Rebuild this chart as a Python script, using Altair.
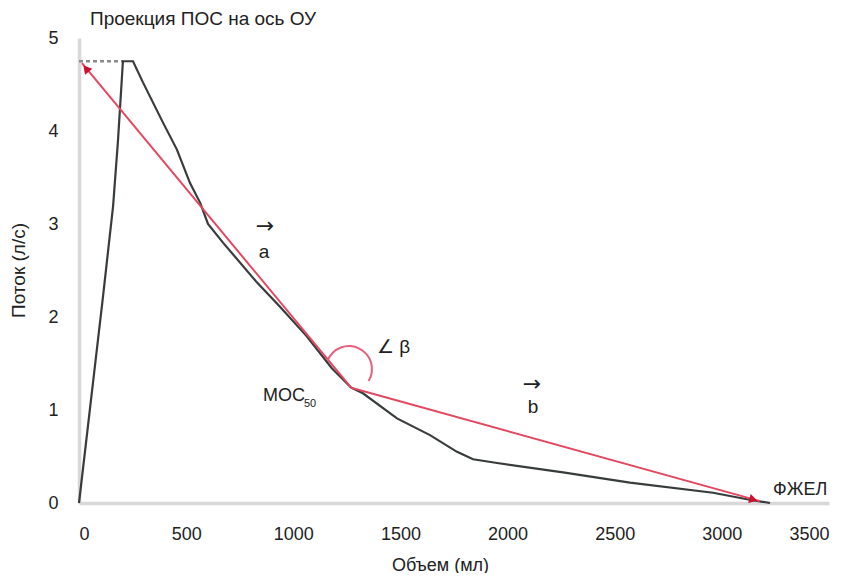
import altair as alt
import pandas as pd

# ---- data ----
curve_volume = [0, 112, 159, 182, 205, 252, 299, 392, 457, 518, 565, 602, 672, 831,
                938, 1060, 1180, 1270, 1325, 1484, 1638, 1764, 1839, 1951, 2259, 2571,
                2959, 3117, 3225]
curve_flow = [0, 2.22, 3.19, 3.90, 4.75, 4.75, 4.52, 4.09, 3.80, 3.44, 3.23, 3.00, 2.80,
              2.37, 2.11, 1.80, 1.45, 1.24, 1.18, 0.91, 0.73, 0.55, 0.47, 0.43, 0.33,
              0.22, 0.11, 0.04, 0.0]

pos_volume = [0, 205]          # dashed projection of ПОС
pos_flow = [4.75, 4.75]

moc50 = (1270, 1.24)
arrow_a_tip = (14, 4.73)
arrow_b_tip = (3178, 0.02)
arrow_vectors = ["a", "a", "b", "b"]
arrow_volume = [moc50[0], arrow_a_tip[0], moc50[0], arrow_b_tip[0]]
arrow_flow = [moc50[1], arrow_a_tip[1], moc50[1], arrow_b_tip[1]]

head_volume = [37, 3141]
head_flow = [4.66, 0.04]
head_angle = [320, 106]

arc_center = (1260, 1.44)

vec_arrow_text = ["→", "→"]
vec_arrow_volume = [868, 2114]
vec_arrow_flow = [2.98, 1.28]

vec_letter_text = ["a", "b"]
vec_letter_volume = [863, 2119]
vec_letter_flow = [2.70, 1.03]

left_text = ["∠ β", "МОС", "50", "ФЖЕЛ"]
left_volume = [1391, 859, 1050, 3239]
left_flow = [1.68, 1.15, 1.06, 0.14]
left_size = [19, 18, 11, 18]

x_ticks = [0, 500, 1000, 1500, 2000, 2500, 3000, 3500]
y_ticks = [0, 1, 2, 3, 4, 5]

FONT = "Liberation Sans"

curve_df = pd.DataFrame({"v": curve_volume, "f": curve_flow, "o": range(len(curve_volume))})
pos_df = pd.DataFrame({"v": pos_volume, "f": pos_flow})
arrow_df = pd.DataFrame({"vec": arrow_vectors, "v": arrow_volume, "f": arrow_flow,
                         "o": [0, 1, 0, 1]})
head_df = pd.DataFrame({"v": head_volume, "f": head_flow, "ang": head_angle})
arc_df = pd.DataFrame({"v": [arc_center[0]], "f": [arc_center[1]]})
varrow_df = pd.DataFrame({"v": vec_arrow_volume, "f": vec_arrow_flow, "t": vec_arrow_text})
vletter_df = pd.DataFrame({"v": vec_letter_volume, "f": vec_letter_flow, "t": vec_letter_text})
ltext_df = pd.DataFrame({"v": left_volume, "f": left_flow, "t": left_text, "s": left_size})

xs = alt.Scale(domain=[0, 3500], nice=False)
ys = alt.Scale(domain=[0, 5], nice=False)

X = alt.X("v:Q", scale=xs, title="Объем (мл)",
          axis=alt.Axis(values=x_ticks, format="d", grid=False, ticks=False, tickSize=0,
                        labelPadding=22, labelFontSize=18, labelFont=FONT,
                        labelColor="#222", domainColor="#d8d8d8", domainWidth=3.5,
                        titleFont=FONT, titleFontSize=18, titleFontWeight="normal",
                        titleColor="#222", titleX=361, titleY=62,
                        titleBaseline="middle"))
Y = alt.Y("f:Q", scale=ys, title="Поток (л/с)",
          axis=alt.Axis(values=y_ticks, format="d", grid=False, ticks=False, tickSize=0,
                        labelPadding=21, labelFontSize=18, labelFont=FONT,
                        labelColor="#222", domainColor="#d8d8d8", domainWidth=3.5,
                        titleFont=FONT, titleFontSize=19, titleFontWeight="normal",
                        titleColor="#222", titleX=-61, titleY=232,
                        titleBaseline="middle"))

curve = alt.Chart(curve_df).mark_line(color="#383c3c", strokeWidth=2.2).encode(
    x=X, y=Y, order="o:Q")

dashed = alt.Chart(pos_df).mark_line(color="#8a8a8a", strokeWidth=2.5,
                                     strokeDash=[4, 3]).encode(x="v:Q", y="f:Q")

arrows = alt.Chart(arrow_df).mark_line(color="#e4475f", strokeWidth=2).encode(
    x="v:Q", y="f:Q", detail="vec:N", order="o:Q")

heads = alt.Chart(head_df).mark_point(shape="triangle", filled=True, size=90,
                                      color="#cc1030", opacity=1).encode(
    x="v:Q", y="f:Q", angle=alt.Angle("ang:Q", scale=None))

arc = alt.Chart(arc_df).mark_arc(radius=24, radius2=22, theta=5.1, theta2=8.4,
                                 color="#e8607c").encode(x="v:Q", y="f:Q")

varrow = alt.Chart(varrow_df).mark_text(font="DejaVu Sans", fontSize=22, color="#222",
                                        align="center", baseline="middle").encode(
    x="v:Q", y="f:Q", text="t:N")

vletter = alt.Chart(vletter_df).mark_text(font=FONT, fontSize=19, color="#222",
                                          align="center", baseline="middle").encode(
    x="v:Q", y="f:Q", text="t:N")

ltext = alt.Chart(ltext_df).mark_text(font=FONT, color="#222", align="left",
                                      baseline="middle").encode(
    x="v:Q", y="f:Q", text="t:N", size=alt.Size("s:Q", scale=None, legend=None))

chart = alt.layer(dashed, curve, arrows, arc, heads, varrow, vletter, ltext).properties(
    width=750, height=465,
    background="white",
    autosize=alt.AutoSizeParams(type="none"),
    padding={"left": 71, "top": 30, "right": 17, "bottom": 70},
    title=alt.TitleParams("Проекция ПОС на ось ОУ", anchor="start", frame="group",
                          dx=11, dy=5, offset=5, font=FONT, fontSize=19,
                          fontWeight="normal", color="#222"),
).configure_view(strokeWidth=0, stroke="transparent")

chart.save("out.html", embed_options={"renderer": "svg", "actions": False})
